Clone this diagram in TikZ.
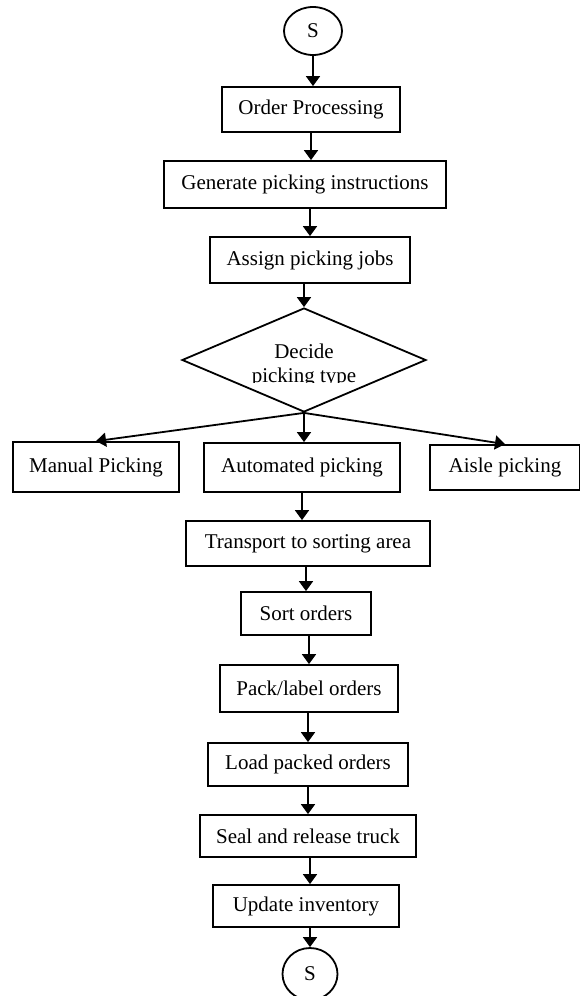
\documentclass[tikz,border=0pt]{standalone}
\usepackage{fontspec}
\setmainfont{Liberation Serif}
\usetikzlibrary{shapes.geometric,arrows.meta}
\begin{document}
\begin{tikzpicture}[x=1pt,y=-1pt,
  txt/.style={font=\fontsize{21}{24}\selectfont},
  box/.style={draw,line width=1.8pt,inner sep=0pt,txt},
  term/.style={draw,ellipse,line width=1.8pt,inner sep=0pt,txt},
  decision/.style={draw,diamond,line width=1.8pt,inner sep=0pt,shape aspect=2.33},
  arr/.style={line width=1.8pt,-{Triangle[length=10pt,width=14pt]}}]
\useasboundingbox (0,0) rectangle (580,996);

\node[term,minimum width=58pt,minimum height=48pt] (s1) at (313,31) {S};
\node[box,minimum width=178pt,minimum height=45pt] (op) at (311,109.5) {Order Processing};
\node[box,minimum width=282pt,minimum height=47pt] (gp) at (305,184.5) {Generate picking instructions};
\node[box,minimum width=200pt,minimum height=46pt] (aj) at (310,260) {Assign picking jobs};
\node[decision,minimum width=244pt,minimum height=104pt] (d) at (304,360) {};
\begin{scope}
  \clip (170,300) rectangle (440,382);
  \node[txt,align=center] (dt) at (304,365) {Decide\\picking type};
\end{scope}
\node[box,minimum width=166pt,minimum height=50pt] (mp) at (96,467) {Manual Picking};
\node[box,minimum width=196pt,minimum height=49pt] (ap) at (302,467.5) {Automated picking};
\node[box,minimum width=150pt,minimum height=45pt] (ai) at (505,467.5) {Aisle picking};
\node[box,minimum width=244pt,minimum height=45pt] (tr) at (308,543.5) {Transport to sorting area};
\node[box,minimum width=130pt,minimum height=43pt] (so) at (306,613.5) {Sort orders};
\node[box,minimum width=178pt,minimum height=47pt] (pl) at (309,688.5) {Pack/label orders};
\node[box,minimum width=200pt,minimum height=43pt] (lo) at (308,764.5) {Load packed orders};
\node[box,minimum width=216pt,minimum height=42pt] (se) at (308,836) {Seal and release truck};
\node[box,minimum width=186pt,minimum height=42pt] (up) at (306,906) {Update inventory};
\node[term,minimum width=55pt,minimum height=52pt] (s2) at (310,974) {S};

\draw[arr] (s1.south) -- (s1.south |- op.north);
\draw[arr] (op.south) -- (op.south |- gp.north);
\draw[arr] (gp.south -| aj.north) -- (aj.north);
\draw[arr] (aj.south -| d.north) -- (d.north);
\draw[arr] (d.south) -- (mp.north);
\draw[arr] (d.south) -- (d.south |- ap.north);
\draw[arr] (d.south) -- (ai.north);
\draw[arr] (ap.south) -- (ap.south |- tr.north);
\draw[arr] (tr.south -| so.north) -- (so.north);
\draw[arr] (so.south -| pl.north) -- (pl.north);
\draw[arr] (pl.south -| lo.north) -- (lo.north);
\draw[arr] (lo.south) -- (lo.south |- se.north);
\draw[arr] (se.south -| s2.north) -- (s2.north |- up.north);
\draw[arr] (up.south -| s2.north) -- (s2.north);
\end{tikzpicture}
\end{document}
